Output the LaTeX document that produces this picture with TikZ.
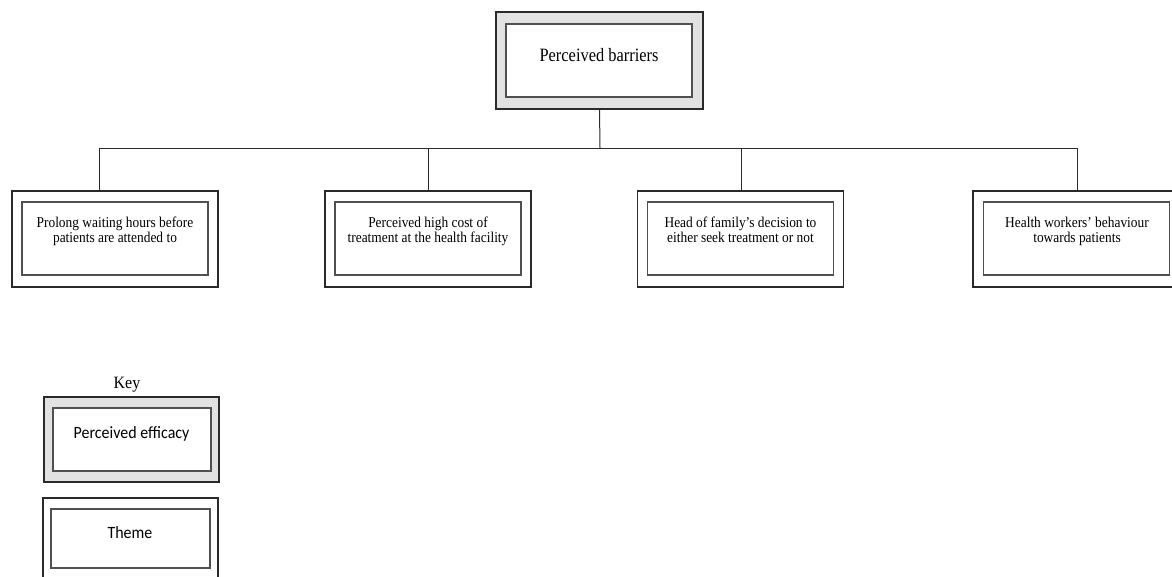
\documentclass[tikz,border=0pt]{standalone}
\usepackage{fontspec}
\usepackage{graphicx}
\setmainfont{Liberation Serif}
\newfontfamily\keyfont{Carlito}
\definecolor{edgedark}{HTML}{2A2A2A}
\definecolor{edgeinner}{HTML}{505050}
\definecolor{bandgray}{HTML}{E2E2E2}
% slightly tall text block, centred lines
\newcommand{\talltext}[2][1.12]{\scalebox{1}[#1]{\begin{tabular}{@{}c@{}}#2\end{tabular}}}
\begin{document}
\begin{tikzpicture}[x=1pt,y=-1pt,
  outerbox/.style={draw=edgedark,line width=1.3pt,fill=white,inner sep=0pt,minimum width=206pt,minimum height=96pt},
  outergray/.style={outerbox,fill=bandgray},
  innerbox/.style={draw=edgeinner,line width=1.2pt,fill=white,inner sep=0pt,minimum width=186pt,minimum height=73pt},
  themetext/.style={inner sep=0pt,font=\fontsize{13.4}{13.4}\selectfont},
  link/.style={draw=edgedark,line width=1pt}]
\useasboundingbox (0,0) rectangle (1172,576);
\clip (0,0) rectangle (1172,576);

% top-level box
\node[outergray,minimum width=207pt,minimum height=97pt] (top) at (599.5,60.5) {};
\node[innerbox] (topin) at (599,60.5) {};
\node[inner sep=0pt,font=\fontsize{16.4}{18}\selectfont] (toptext) at (599,57) {\talltext[1.15]{Perceived barriers}};

% theme boxes
\node[outerbox] (b1) at (115,239) {};
\node[innerbox] (b1in) at (115,238.5) {};
\node[themetext] (t1) at (115,231.5) {\talltext{Prolong waiting hours before\\patients are attended to}};

\node[outerbox] (b2) at (428,239) {};
\node[innerbox] (b2in) at (428,238.5) {};
\node[themetext] (t2) at (428,231.5) {\talltext{Perceived high cost of\\treatment at the health facility}};

\node[outerbox] (b3) at (740.5,239) {};
\node[innerbox] (b3in) at (740.5,238.5) {};
\node[themetext] (t3) at (740.5,231.5) {\talltext{Head of family’s decision to\\either seek treatment or not}};

\node[outerbox] (b4) at (1076,239) {};
\node[innerbox] (b4in) at (1076.5,238.5) {};
\node[themetext] (t4) at (1077,231.5) {\talltext{Health workers’ behaviour\\towards patients}};

% connectors
\coordinate (bus) at (600,148);
\draw[link] (top.south) -- (bus);
\draw[link] ([xshift=-16pt]b1.north) |- (bus);
\draw[link] (bus) -| ([xshift=1pt]b4.north);
\draw[link] (b2.north) -- (b2.north |- bus);
\draw[link] ([xshift=0.5pt]b3.north) -- ([xshift=0.5pt]b3.north |- bus);

% key
\node[inner sep=0pt,font=\fontsize{16}{18}\selectfont] (keylabel) at (127,385) {\talltext[1.08]{Key}};
\node[outergray,minimum width=175pt,minimum height=85pt] (k1) at (131.5,439.5) {};
\node[innerbox,minimum width=158pt,minimum height=63pt] (k1in) at (132,439.5) {};
\node[inner sep=0pt,font=\keyfont\fontsize{16}{18}\selectfont] (k1text) at (131.5,435) {\talltext[1.08]{Perceived efficacy}};

\node[outerbox,minimum width=175pt,minimum height=82pt] (k2) at (130.5,539) {};
\node[innerbox,minimum width=159pt,minimum height=59pt] (k2in) at (130.5,538.5) {};
\node[inner sep=0pt,font=\keyfont\fontsize{16}{18}\selectfont] (k2text) at (130,535) {\talltext[1.08]{Theme}};
\end{tikzpicture}
\end{document}
